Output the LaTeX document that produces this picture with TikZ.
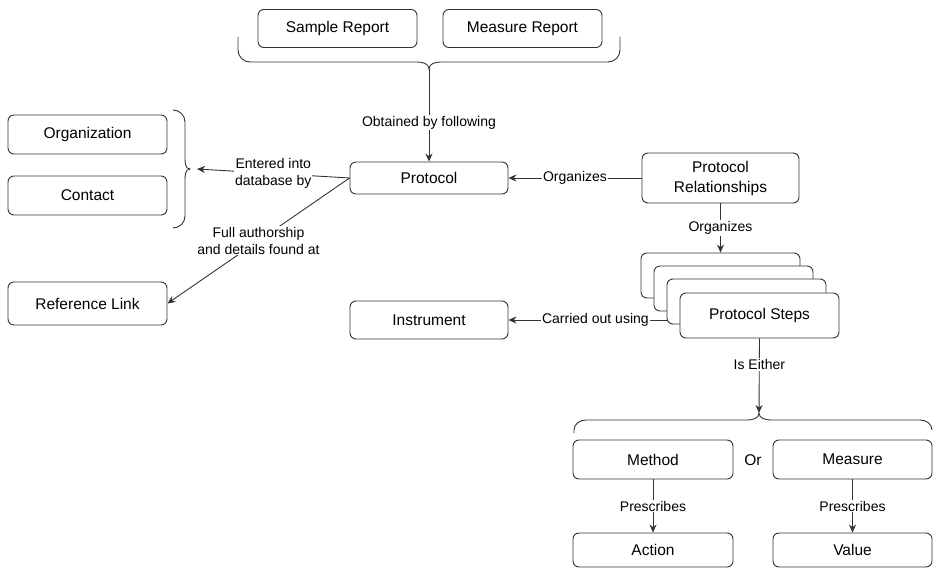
\documentclass[tikz,border=0pt]{standalone}
\usepackage{fontspec}
\setmainfont{Liberation Sans}
\usetikzlibrary{arrows.meta, calc}
\tikzset{>={Stealth[length=8pt, width=7pt]}}
\tikzset{
  box/.style={draw=black!80, line width=0.9pt, rounded corners=6pt, fill=white,
    minimum width=159pt, minimum height=38pt, inner sep=0pt, align=center,
    font=\fontsize{15.5}{20}\selectfont},
  elabel/.style={fill=white, inner sep=1pt, align=center,
    font=\fontsize{14}{17}\selectfont},
  link/.style={draw=black!80, line width=0.9pt, ->}
}

\begin{document}
\begin{tikzpicture}[x=1pt, y=-1pt]
    \useasboundingbox (0,0) rectangle (934,569);
    % boxes
    \node [box] (sample) at (337.5,28.5) {Sample Report};
    \node [box] (measrep) at (522.5,28.5) {Measure Report};
    \node [box, minimum width=158pt, minimum height=32pt] (protocol) at (429,178) {Protocol};
    \node [box, minimum width=157pt, minimum height=50pt] (protrel) at (720.5,178) {Protocol\\Relationships};
    \node [box, minimum height=45pt] (st1) at (720.5,275.5) {};
    \node [box, minimum height=45pt] (st2) at (733.5,288.5) {};
    \node [box, minimum height=45pt] (st3) at (746.5,301.5) {};
    \node [box, minimum height=45pt] (steps) at (759.5,315.5) {Protocol Steps};
    \node [box, minimum width=158pt] (instrument) at (429,320) {Instrument};
    \node [box, minimum height=39pt] (org) at (87.5,134.5) {Organization};
    \node [box, minimum height=39pt] (contact) at (87.5,195.5) {Contact};
    \node [box, minimum height=43pt] (reflink) at (87.5,303.5) {Reference Link};
    \node [box, minimum width=160pt, minimum height=39pt] (method) at (653,459.5) {Method};
    \node [box, minimum height=39pt] (measure) at (852.5,459.5) {Measure};
    \node [box, minimum width=160pt, minimum height=34pt] (action) at (653,550) {Action};
    \node [box, minimum height=34pt] (value) at (852.5,550) {Value};
    \node [font=\fontsize{15.5}{18}\selectfont] (or) at (753,460) {Or};

    % braces
    \coordinate (reptip) at (429,69);
    \coordinate (orgtip) at (190,169);
    \coordinate (eithertip) at (759,413);
    \draw [black!80, line width=0.9pt] (238,37) -- (238,50) to[out=-90,in=180] (250,62) -- (417,62)
        to[out=0,in=90] (reptip) to[out=90,in=180] (441,62) -- (608,62) to[out=0,in=-90] (620,50) -- (620,37);
    \draw [black!80, line width=0.9pt] (173,110) to[out=0,in=90] (185,122) -- (185,157)
        to[out=-90,in=180] (orgtip) to[out=180,in=90] (185,181) -- (185,216) to[out=-90,in=0] (173,228);
    \draw [black!80, line width=0.9pt] (574,433) -- (574,430) to[out=90,in=180] (586,420) -- (747,420)
        to[out=0,in=-90] (eithertip) to[out=-90,in=180] (771,420) -- (920,420) to[out=0,in=90] (932,430);

    % connectors
    \draw [link] (reptip) -- (protocol.north) node [elabel, pos=0.58] {Obtained by following};
    \draw [link] (protrel.west) -- (protocol.east) node [elabel, midway] {Organizes};
    \draw [link] (protrel.south) -- (st1.north) node [elabel, midway] {Organizes};
    \draw [link] (protocol.west) -- ($(orgtip)+(7,0)$) node [elabel, midway] {Entered into\\database by};
    \draw [link] (protocol.west) -- (reflink.east) node [elabel, midway] {Full authorship\\and details found at};
    \draw [link] (instrument.east -| st3.west) -- (instrument.east) node [elabel, pos=0.45] {Carried out using};
    \draw [link] (steps.south) -- (eithertip) node [elabel, pos=0.35] {Is Either};
    \draw [link] (method.south) -- (action.north) node [elabel, midway] {Prescribes};
    \draw [link] (measure.south) -- (value.north) node [elabel, midway] {Prescribes};
\end{tikzpicture}
\end{document}
